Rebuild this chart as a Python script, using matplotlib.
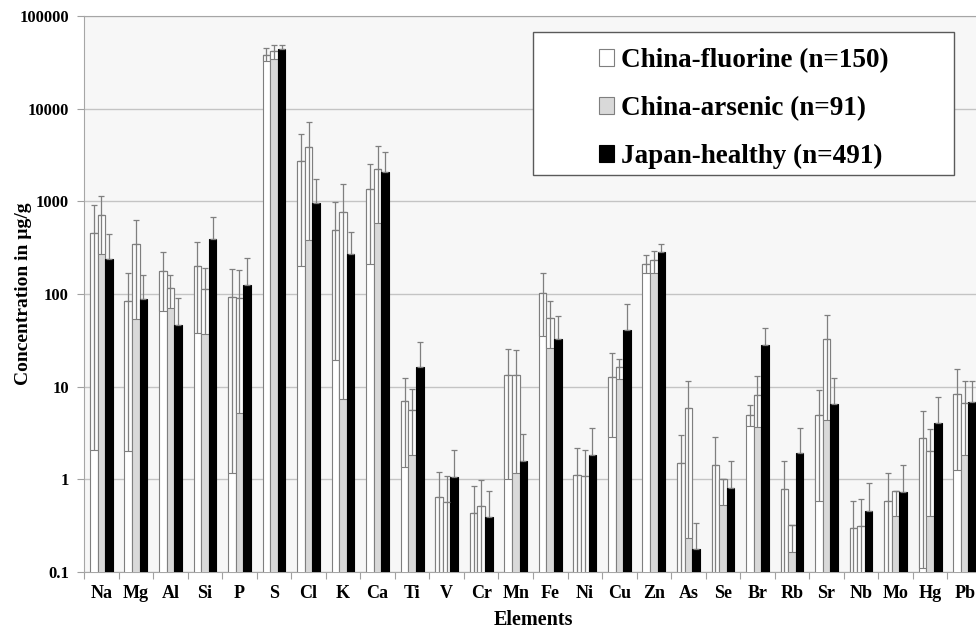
import numpy as np
import matplotlib.pyplot as plt
from matplotlib.patches import Patch, Rectangle

plt.rcParams['font.family'] = ['Liberation Serif', 'DejaVu Serif']
plt.rcParams['font.weight'] = 'bold'

elements = ["Na", "Mg", "Al", "Si", "P", "S", "Cl", "K", "Ca", "Ti", "V", "Cr", "Mn",
            "Fe", "Ni", "Cu", "Zn", "As", "Se", "Br", "Rb", "Sr", "Nb", "Mo", "Hg", "Pb"]

# China-fluorine (n=150): mean, upper end of error bar, lower end of error bar
fluor_mean = [460, 85, 176, 200, 94, 38300, 2720, 495, 1360, 6.95, 0.645, 0.437, 13.3,
              103, 1.12, 12.7, 209, 1.51, 1.43, 5.0, 0.78, 4.9, 0.30, 0.58, 2.82, 8.3]
fluor_hi = [910, 169, 284, 368, 188, 45200, 5330, 984, 2530, 12.5, 1.21, 0.84, 25.3,
            170, 2.19, 22.9, 264, 3.02, 2.84, 6.3, 1.56, 9.3, 0.59, 1.18, 5.4, 15.5]
fluor_lo = [2.06, 2.0, 66, 38, 1.16, 32400, 200, 19.3, 213, 1.35, 0.05, 0.05, 1.02,
            35, 0.05, 2.9, 170, 0.05, 0.05, 3.77, 0.05, 0.59, 0.05, 0.05, 0.11, 1.27]

# China-arsenic (n=91)
arsen_mean = [713, 344, 115, 112, 91, 41600, 3900, 775, 2235, 5.65, 0.57, 0.515, 13.3,
              55.5, 1.1, 16.2, 231, 5.95, 1.02, 8.2, 0.32, 32.7, 0.314, 0.74, 2.0, 6.7]
arsen_hi = [1153, 630, 162, 189, 180, 49100, 7180, 1553, 3930, 9.4, 1.08, 0.977, 25,
            84, 2.07, 20, 291, 11.5, 1.02, 12.9, 0.32, 60, 0.61, 0.74, 3.5, 11.5]
arsen_lo = [268, 54, 71, 37, 5.15, 34000, 383, 7.3, 583, 1.83, 0.05, 0.05, 1.18,
            26, 0.05, 12.1, 170, 0.234, 0.525, 3.7, 0.163, 4.4, 0.05, 0.40, 0.40, 1.83]

# Japan-healthy (n=491)
japan_mean = [239, 88, 46, 393, 126, 44100, 952, 273, 2073, 16.4, 1.06, 0.39, 1.56,
              32.4, 1.82, 41, 282, 0.178, 0.81, 27.9, 1.92, 6.5, 0.457, 0.73, 4.03, 6.8]
japan_hi = [449, 162, 91, 684, 247, 49100, 1740, 467, 3380, 30, 2.09, 0.75, 3.09,
            58, 3.6, 79, 350, 0.34, 1.58, 43.3, 3.56, 12.5, 0.91, 1.44, 7.8, 11.5]

labels = ["China-fluorine (n=150)", "China-arsenic (n=91)", "Japan-healthy (n=491)"]
colors = ["white", "#d9d9d9", "black"]
edges = ["#7f7f7f", "#7f7f7f", "black"]
err_col = "#7f7f7f"

fig = plt.figure(figsize=(9.76, 6.31), dpi=100)
ax = fig.add_axes([0.0861, 0.0935, 0.92, 0.881])
ax.set_facecolor("#f7f7f7")

x = np.arange(len(elements))
w = 0.22
base = 0.01

series = [
    (np.array(fluor_mean), np.array(fluor_hi), np.array(fluor_lo)),
    (np.array(arsen_mean), np.array(arsen_hi), np.array(arsen_lo)),
    (np.array(japan_mean), np.array(japan_hi), None),
]

for k, (m, hi, lo) in enumerate(series):
    xs = x + (k - 1) * w
    ax.bar(xs, m - base, bottom=base, width=w, color=colors[k], edgecolor=edges[k],
           linewidth=0.8, zorder=3)
    if lo is not None:
        # part of the bar covered by the lower error bar looks hollow
        ax.bar(xs, m - lo, bottom=lo, width=w, color="#fbfbfb", edgecolor=edges[k],
               linewidth=0.8, zorder=3)
        ax.errorbar(xs, m, yerr=[m - lo, np.zeros_like(m)], fmt="none", ecolor=err_col,
                    elinewidth=0.9, capsize=0, zorder=4)
    ax.errorbar(xs, m, yerr=[np.zeros_like(m), hi - m], fmt="none", ecolor=err_col,
                elinewidth=0.9, capsize=2.3, capthick=0.9, zorder=4)

ax.set_yscale("log")
ax.set_ylim(0.1, 100000)
ax.set_xlim(-0.5, len(elements) - 0.5)

yt = [0.1, 1, 10, 100, 1000, 10000, 100000]
ax.set_yticks(yt)
ax.set_yticklabels(["0.1", "1", "10", "100", "1000", "10000", "100000"])
ax.yaxis.set_minor_locator(plt.NullLocator())
ax.grid(axis="y", color="#c4c4c4", linewidth=1.0, zorder=0)
ax.set_axisbelow(True)

ax.set_xticks(x)
ax.set_xticklabels(elements)
ax.set_xticks(np.arange(len(elements) + 1) - 0.5, minor=True)
ax.tick_params(axis="x", which="major", length=0, pad=9, labelsize=13)
ax.tick_params(axis="x", which="minor", length=5, color="#a0a0a0", width=0.8)
ax.tick_params(axis="y", length=5, color="#a0a0a0", width=0.8, labelsize=12, pad=6)

for s in ["left", "bottom", "top"]:
    ax.spines[s].set_color("#a6a6a6")
ax.spines["right"].set_visible(False)

ax.set_xlabel("Elements", fontsize=14.5, fontweight="bold", labelpad=6)
ax.set_ylabel("Concentration in µg/g", fontsize=14, fontweight="bold")
ax.yaxis.set_label_coords(-0.058, 0.5)

# legend box
fig.patches.append(Rectangle((533 / 976, 1 - 175 / 631), 421 / 976, 143 / 631,
                             transform=fig.transFigure, facecolor="white",
                             edgecolor="#5a5a5a", linewidth=1.0, zorder=5))
handles = [Patch(facecolor=colors[k], edgecolor=edges[k], linewidth=0.8) for k in range(3)]
leg = fig.legend(handles, labels, loc="upper left", bbox_to_anchor=(599 / 976, 1 - 48 / 631),
                 frameon=False, prop={"size": 19.5, "weight": "bold"},
                 handlelength=0.55, handleheight=0.55, handletextpad=0.25,
                 labelspacing=0.85, borderpad=0.0, borderaxespad=0.0)
leg.set_zorder(6)

fig.savefig("out.png", dpi=100)
